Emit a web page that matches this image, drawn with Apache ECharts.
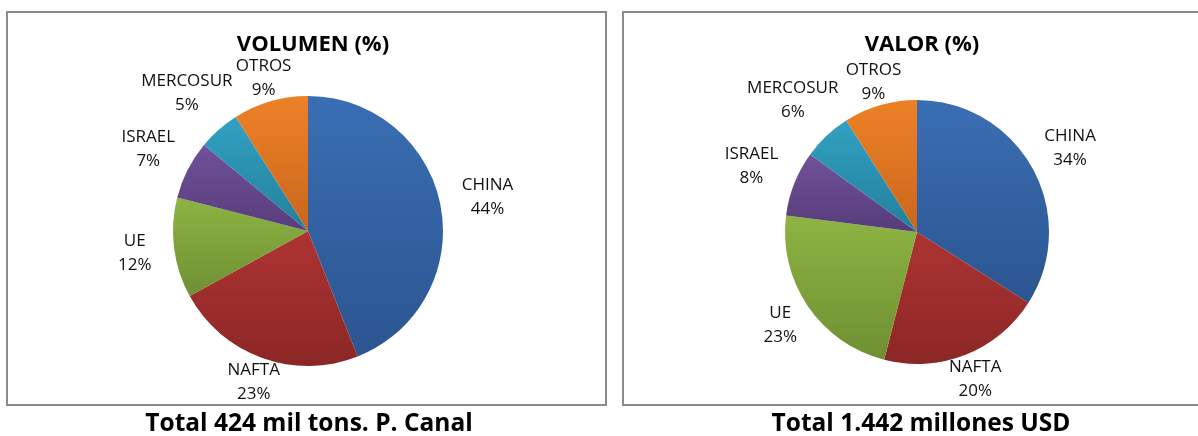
<!DOCTYPE html>
<html>
<head>
<meta charset="utf-8">
<script src="https://cdn.jsdelivr.net/npm/echarts@6/dist/echarts.min.js"></script>
<style>
  html, body { margin: 0; padding: 0; background: #fff; }
  #main { width: 1198px; height: 436px; }
</style>
</head>
<body>
<div id="main"></div>
<script>
// datos
var regiones = ['CHINA', 'NAFTA', 'UE', 'ISRAEL', 'MERCOSUR', 'OTROS']
var volumen = [44, 23, 12, 7, 5, 9]
var valor = [34, 20, 23, 8, 6, 9]
var titulos = ['VOLUMEN (%)', 'VALOR (%)']
var totales = ['Total 424 mil tons. P. Canal', 'Total 1.442 millones USD']

// colores tipo Excel, degradado vertical
var colores = [
    ['#3a6eb3', '#2b5590'],
    ['#ad3432', '#8c2626'],
    ['#8db443', '#6f8f32'],
    ['#71519a', '#573d7b'],
    ['#31a1c2', '#237f9b'],
    ['#ee8127', '#c9661c']
]

var centros = [[308, 231], [917, 232]]
var radios = [135, 132]
var separacion = 24

function grad(c) {
    return new echarts.graphic.LinearGradient(0, 0, 0, 1, [
        { offset: 0, color: c[0] },
        { offset: 1, color: c[1] }
    ])
}

function armarDatos(vals) {
    return regiones.map(function (r, i) {
        return { name: r, value: vals[i], itemStyle: { color: grad(colores[i]) } }
    })
}

var fuente = '"Open Sans", "Noto Sans", sans-serif'

// centra la etiqueta sobre la direccion media del sector (como Excel)
function ubicarEtiqueta(p) {
    var pts = p.labelLinePoints
    if (!pts) return {}
    var c = centros[p.seriesIndex]
    var dx = pts[0][0] - c[0], dy = pts[0][1] - c[1]
    var len = Math.sqrt(dx * dx + dy * dy)
    dx /= len; dy /= len
    var w = p.labelRect.width
    var d = separacion + Math.abs(dx) * w / 2 - Math.abs(dy) * 8
    return {
        x: pts[0][0] + dx * d,
        y: pts[0][1] + dy * d,
        align: 'center',
        verticalAlign: 'middle'
    }
}

function serie(vals, idx) {
    return {
        type: 'pie',
        center: centros[idx],
        radius: radios[idx],
        startAngle: 90,
        clockwise: true,
        silent: true,
        avoidLabelOverlap: false,
        data: armarDatos(vals),
        label: {
            show: true,
            position: 'outside',
            formatter: '{t|{b}}\n{t|{c}%}',
            rich: {
                t: { fontFamily: fuente, fontSize: 17, color: '#111', align: 'center', lineHeight: 24 }
            }
        },
        labelLine: { show: true, length: 10, length2: 0, lineStyle: { opacity: 0 } },
        labelLayout: ubicarEtiqueta
    }
}

var chart = echarts.init(document.getElementById('main'))

var estiloTitulo = { fontFamily: fuente, fontSize: 22, fontWeight: 'bold', color: '#000' }
var estiloTotal = { fontFamily: fuente, fontSize: 24.5, fontWeight: 'bold', color: '#000' }

var options = {
    backgroundColor: '#fff',
    animation: false,
    title: [
        { text: titulos[0], left: 308, top: 29, textAlign: 'center', textStyle: estiloTitulo },
        { text: titulos[1], left: 917, top: 29, textAlign: 'center', textStyle: estiloTitulo },
        { text: totales[0], left: 304, top: 407, textAlign: 'center', textStyle: estiloTotal },
        { text: totales[1], left: 916, top: 407, textAlign: 'center', textStyle: estiloTotal }
    ],
    // marcos de cada grafico
    graphic: [
        { type: 'rect', shape: { x: 7, y: 12, width: 599, height: 393 },
          style: { fill: null, stroke: '#8a8a8a', lineWidth: 2 } },
        { type: 'rect', shape: { x: 623, y: 12, width: 590, height: 393 },
          style: { fill: null, stroke: '#8a8a8a', lineWidth: 2 } }
    ],
    series: [
        serie(volumen, 0),
        serie(valor, 1)
    ]
}

chart.setOption(options)
</script>
</body>
</html>
